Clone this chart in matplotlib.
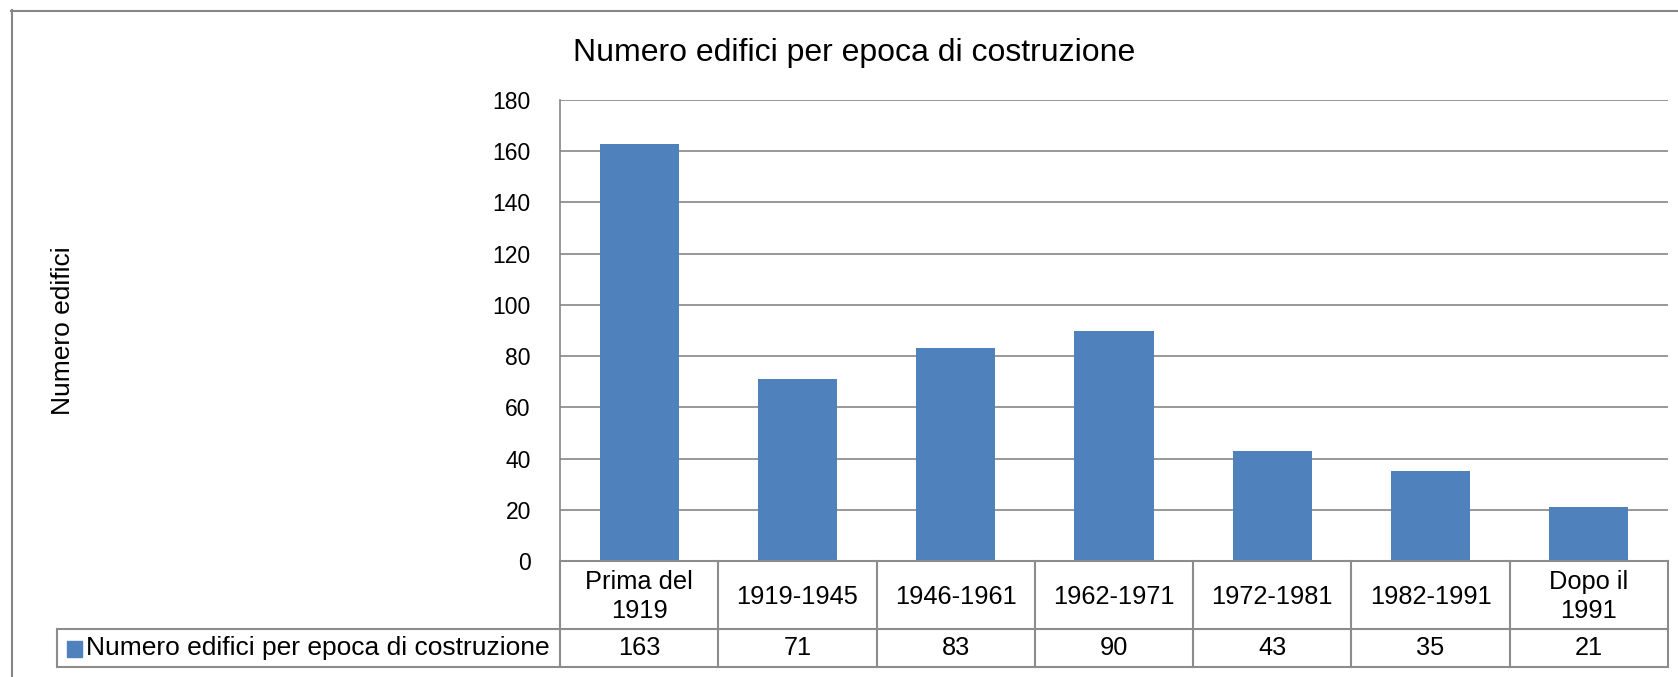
import matplotlib
matplotlib.use("Agg")
import matplotlib.pyplot as plt
from matplotlib.transforms import blended_transform_factory
from matplotlib.lines import Line2D
from matplotlib.patches import Rectangle

plt.rcParams['font.family'] = ['Liberation Sans', 'DejaVu Sans']

title = "Numero edifici per epoca di costruzione"
ylabel = "Numero edifici"
series_name = "Numero edifici per epoca di costruzione"
categories = ["Prima del\n1919", "1919-1945", "1946-1961", "1962-1971",
              "1972-1981", "1982-1991", "Dopo il\n1991"]
values = [163, 71, 83, 90, 43, 35, 21]

W, H = 1678, 677
fig = plt.figure(figsize=(W / 100, H / 100), dpi=100)
fig.patch.set_facecolor("white")

def fx(x):
    return x / W

def fy(y):
    return 1 - y / H

grid_c = "#868686"
bar_c = "#4F81BD"

# plot area
L, R, T, B = 560, 1668, 100, 561
ax = fig.add_axes([fx(L), fy(B), fx(R - L), (B - T) / H])
x = list(range(len(values)))
ax.bar(x, values, width=0.5, color=bar_c, zorder=3)
ax.set_xlim(-0.5, len(values) - 0.5)
ax.set_ylim(0, 180)
ax.set_yticks(range(0, 181, 20))
ax.yaxis.grid(True, color=grid_c, linewidth=1.2, zorder=0)
ax.set_axisbelow(True)
ax.set_xticks([])
ax.tick_params(axis="y", length=0, pad=21, labelsize=16.5)
for s in ["top", "right", "bottom"]:
    ax.spines[s].set_visible(False)
ax.spines["left"].set_color(grid_c)
ax.spines["left"].set_linewidth(1.2)

# title and y label
fig.text(fx(854), fy(53), title, ha="center", va="center", fontsize=23)
fig.text(fx(63), fy((T + B) / 2), ylabel, ha="center", va="center",
         rotation=90, fontsize=19)

# outer chart border
fig.add_artist(Line2D([fx(11.5), fx(11.5)], [fy(10), fy(H + 5)],
                      transform=fig.transFigure, color=grid_c, lw=1.5))
fig.add_artist(Line2D([fx(11), fx(W + 5)], [fy(10.5), fy(10.5)],
                      transform=fig.transFigure, color=grid_c, lw=1.5))

# data table below plot
tr = blended_transform_factory(ax.transData, fig.transFigure)
r0, r1, r2 = 561, 629, 667
line_c = "#8c8c8c"
lw = 1.5
n = len(values)
fig.add_artist(Line2D([-0.5, n - 0.5], [fy(r0), fy(r0)], transform=tr,
                      color=line_c, lw=lw, clip_on=False))
for yy in (r1, r2):
    fig.add_artist(Line2D([fx(57), fx(R)], [fy(yy), fy(yy)],
                          transform=fig.transFigure, color=line_c, lw=lw))
for k in range(n + 1):
    fig.add_artist(Line2D([k - 0.5, k - 0.5], [fy(r0), fy(r2)], transform=tr,
                          color=line_c, lw=lw, clip_on=False))
fig.add_artist(Line2D([fx(57), fx(57)], [fy(r1), fy(r2)],
                      transform=fig.transFigure, color=line_c, lw=lw))

for i, (c, v) in enumerate(zip(categories, values)):
    fig.text(i, fy((r0 + r1) / 2 + 1.5), c, transform=tr, ha="center",
             va="center", fontsize=18.3, linespacing=1.25)
    fig.text(i, fy((r1 + r2) / 2), str(v), transform=tr, ha="center",
             va="center", fontsize=18.3)

# legend key in table
fig.add_artist(Rectangle((fx(67), fy(657)), 15 / W, 16 / H,
                         transform=fig.transFigure, color=bar_c))
fig.text(fx(86), fy((r1 + r2) / 2), series_name, ha="left", va="center",
         fontsize=19)

fig.savefig("out.png", dpi=100)
